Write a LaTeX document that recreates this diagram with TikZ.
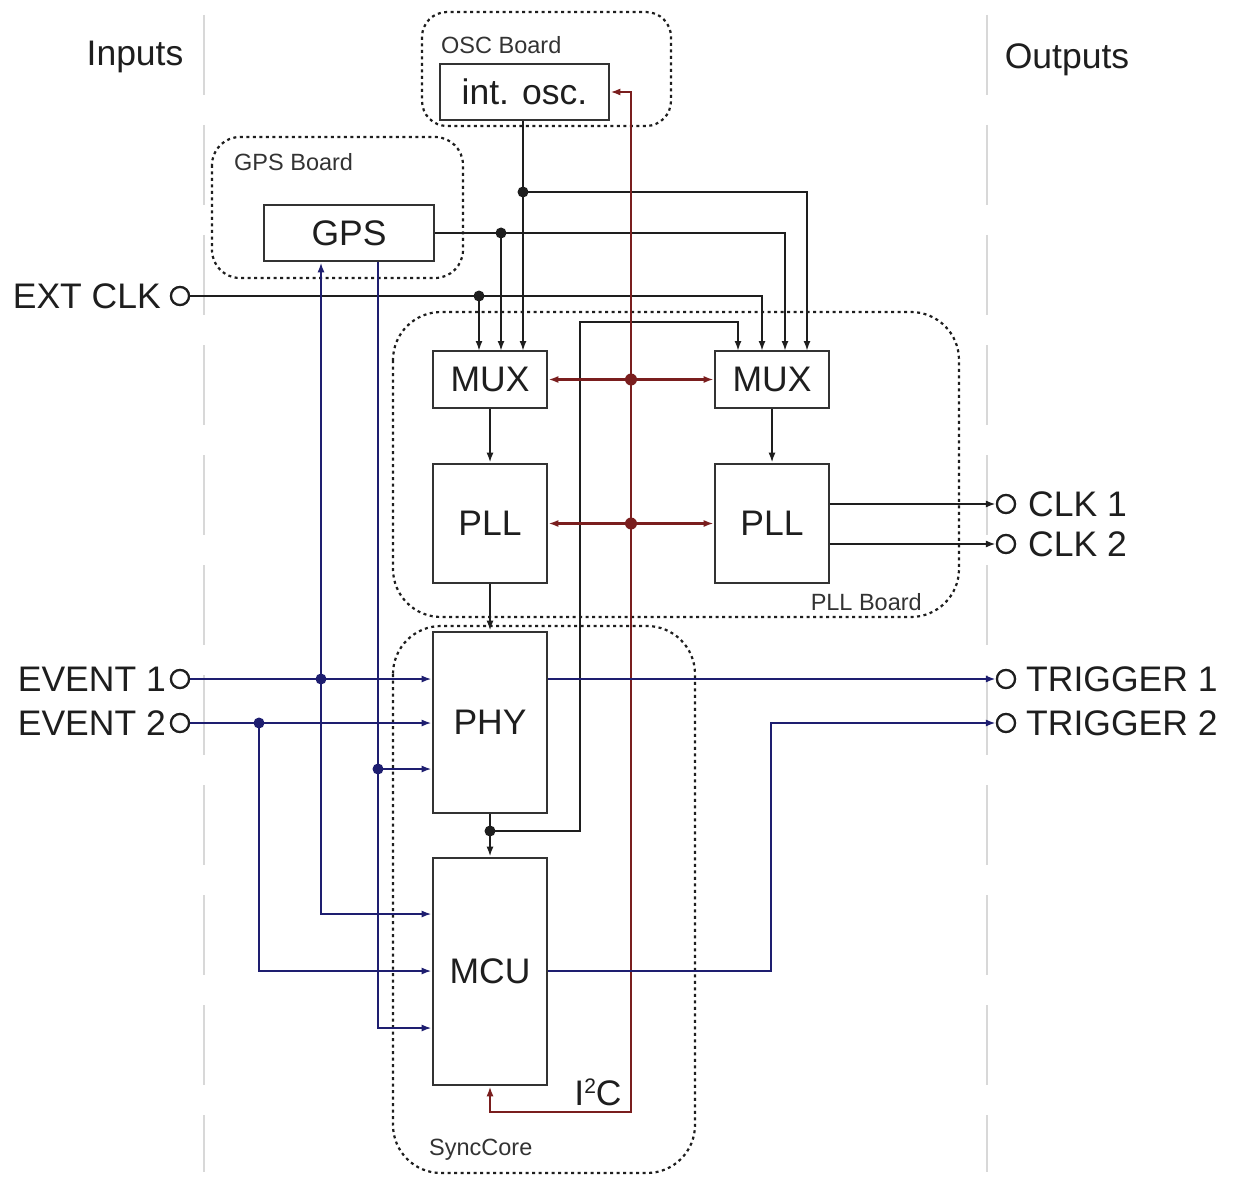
\documentclass[tikz,border=0pt]{standalone}
\usepackage{fontspec}
\setmainfont{Liberation Sans}
\usetikzlibrary{arrows.meta,calc}
\definecolor{ink}{HTML}{1E1E1E}
\definecolor{boxc}{HTML}{333333}
\definecolor{redc}{HTML}{7A1E1E}
\definecolor{bluec}{HTML}{1E1E70}
\definecolor{sepc}{HTML}{D8D8D8}
\newcommand\dgbig{\fontsize{35.5}{40}\selectfont}
\newcommand\dgsmall{\fontsize{23.5}{27}\selectfont}
\begin{document}
\begin{tikzpicture}[x=1pt,y=-1pt,
  blk/.style={draw=boxc,line width=2.6pt,fill=white,inner sep=0pt,text=ink,font=\dgbig},
  pin/.style={circle,draw=ink,line width=2.2pt,fill=white,minimum size=18pt,inner sep=0pt},
  lbl/.style={text=ink,font=\dgbig,inner sep=0pt},
  blbl/.style={text=boxc,font=\dgsmall,inner sep=0pt},
  board/.style={draw=ink,line width=2.2pt,dash pattern=on 3pt off 3.5pt},
  wire/.style={draw=ink,line width=2.3pt},
  redw/.style={draw=redc,line width=2.3pt},
  bluew/.style={draw=bluec,line width=2.3pt},
  tip/.style={-{Latex[length=10pt,width=7pt]}},
  btip/.style={{Latex[length=10pt,width=7pt]}-{Latex[length=10pt,width=7pt]}},
  sepline/.style={draw=sepc,line width=1.2pt,dash pattern=on 80pt off 30pt},
]
\useasboundingbox[fill=white] (0,0) rectangle (1234,1177);

% separators
\draw[sepline] (204,15) -- (204,1172);
\draw[sepline] (987,15) -- (987,1172);

% boards
\draw[board,rounded corners=25pt] (422,12) rectangle (671,126);
\draw[board,rounded corners=28pt] (212,137) rectangle (463,278);
\draw[board,rounded corners=48pt] (393,312) rectangle (959,617);
\draw[board,rounded corners=48pt] (393,626) rectangle (695,1173);
\node[blbl,anchor=west] (lbosc) at (441,45) {OSC Board};
\node[blbl,anchor=west] (lbgps) at (234,162) {GPS Board};
\node[blbl,anchor=east] (lbpll) at (922,602) {PLL Board};
\node[blbl,anchor=west] (lbsync) at (429,1150) {SyncCore};

% headings
\node[lbl] (hin) at (135,57) {Inputs};
\node[lbl] (hout) at (1067,60) {Outputs};

% blocks
\node[blk,minimum width=169pt,minimum height=56pt] (osc) at (524.5,92) {int. osc.};
\node[blk,minimum width=170pt,minimum height=56pt] (GPS) at (349,233) {GPS};
\node[blk,minimum width=114pt,minimum height=57pt] (MUX1) at (490,379.5) {MUX};
\node[blk,minimum width=114pt,minimum height=57pt] (MUX2) at (772,379.5) {MUX};
\node[blk,minimum width=114pt,minimum height=119pt] (PLL1) at (490,523.5) {PLL};
\node[blk,minimum width=114pt,minimum height=119pt] (PLL2) at (772,523.5) {PLL};
\node[blk,minimum width=114pt,minimum height=181pt] (PHY) at (490,722.5) {PHY};
\node[blk,minimum width=114pt,minimum height=227pt] (MCU) at (490,971.5) {MCU};

% pins
\node[pin] (extclk) at (180,296) {};
\node[pin] (ev1) at (180,679) {};
\node[pin] (ev2) at (180,723) {};
\node[pin] (clk1) at (1006,504) {};
\node[pin] (clk2) at (1006,544) {};
\node[pin] (trig1) at (1006,679) {};
\node[pin] (trig2) at (1006,723) {};
\node[lbl,anchor=east] (textclk) at (161,296) {EXT CLK};
\node[lbl,anchor=east] (tev1) at (166,679) {EVENT 1};
\node[lbl,anchor=east] (tev2) at (166,723) {EVENT 2};
\node[lbl,anchor=west] (tclk1) at (1028,504) {CLK 1};
\node[lbl,anchor=west] (tclk2) at (1028,544) {CLK 2};
\node[lbl,anchor=west] (ttrig1) at (1026,679) {TRIGGER 1};
\node[lbl,anchor=west] (ttrig2) at (1026,723) {TRIGGER 2};
\node[lbl] (ti2c) at (598,1092) {I\raisebox{12pt}{\fontsize{21}{21}\selectfont 2}C};

% MUX input points
\coordinate (m1a) at (479,351);
\coordinate (m1b) at (501,351);
\coordinate (m1c) at (523,351);
\coordinate (m2a) at (738,351);
\coordinate (m2b) at (762,351);
\coordinate (m2c) at (785,351);
\coordinate (m2d) at (807,351);
% junctions
\coordinate (jx) at (m1a |- extclk);
\coordinate (jg) at (m1b |- GPS.east);
\coordinate (jo) at (523,192);
\coordinate (jp) at (490,831);
\coordinate (lp) at (580,322);
\coordinate (rb) at (631,1112);
\coordinate (jr1) at (rb |- MUX1.east);
\coordinate (jr2) at (rb |- PLL1.east);
\coordinate (jb1) at (321,679);
\coordinate (jb2) at (259,723);
\coordinate (jb3) at (378,769);
\coordinate (g2) at (378,1028);
\coordinate (tc) at (771,723);

% black clock wires
\draw[wire,tip] (extclk.east) -| (m2b);
\draw[wire,tip] (jx) -- (m1a);
\draw[wire,tip] (GPS.east) -| (m2c);
\draw[wire,tip] (jg) -- (m1b);
\draw[wire,tip] (osc.south -| m1c) -- (m1c);
\draw[wire,tip] (jo) -| (m2d);
\draw[wire,tip] (jp) -| (lp) -| (m2a);
\draw[wire,tip] (MUX1.south) -- (PLL1.north);
\draw[wire,tip] (MUX2.south) -- (PLL2.north);
\draw[wire,tip] (PLL1.south) -- (PHY.north);
\draw[wire,tip] (PHY.south) -- (MCU.north);
\draw[wire,tip] (PLL2.east |- clk1) -- (clk1.west);
\draw[wire,tip] (PLL2.east |- clk2) -- (clk2.west);
\foreach \p in {jx,jg,jo,jp} \fill[ink] (\p) circle (5.5pt);

% red I2C bus
\draw[redw,btip] (MCU.south) |- (rb) |- (osc.east);
\draw[redw,btip] (MUX1.east) -- (MUX2.west);
\draw[redw,btip] (PLL1.east) -- (PLL2.west);
\foreach \p in {jr1,jr2} \fill[redc] (\p) circle (6pt);

% blue event / trigger wires
\draw[bluew,tip] (ev1.east) -- (PHY.west |- ev1.east);
\draw[bluew,tip] (jb1) -- (jb1 |- GPS.south);
\draw[bluew,tip] (jb1) |- (MCU.west |- 0,914);
\draw[bluew,tip] (ev2.east) -- (PHY.west |- ev2.east);
\draw[bluew,tip] (jb2) |- (MCU.west |- 0,971);
\draw[bluew,tip] (g2 |- GPS.south) -- (g2) -- (MCU.west |- g2);
\draw[bluew,tip] (jb3) -- (PHY.west |- jb3);
\draw[bluew,tip] (PHY.east |- trig1) -- (trig1.west);
\draw[bluew,tip] (MCU.east |- 0,971) -| (tc) -- (trig2.west);
\foreach \p in {jb1,jb2,jb3} \fill[bluec] (\p) circle (5.5pt);

% redraw pins on top
\foreach \p in {extclk,ev1,ev2,clk1,clk2,trig1,trig2} \node[pin] at (\p) {};
\end{tikzpicture}
\end{document}
